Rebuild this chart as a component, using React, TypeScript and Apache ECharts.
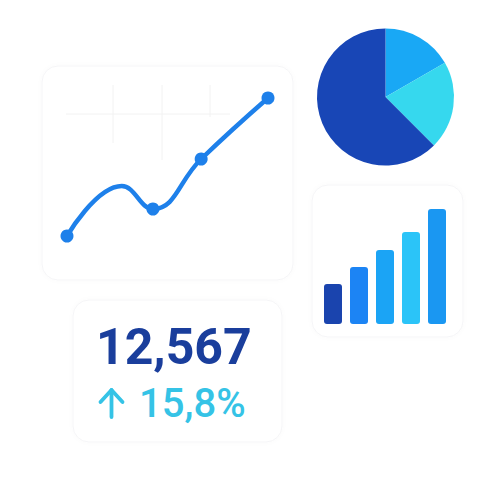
import React, { useEffect, useRef } from "react";
import * as echarts from "echarts";

// Line chart (x positions in units, y values)
const lineX = [0, 1.09, 1.71, 2.67, 4.0];
const lineY = [1.2, 3.7, 2.55, 5.05, 8.1];
const lineMarkers = [true, false, true, true, true];

// Pie shares (%)
const pieNames = ["A", "B", "C"];
const pieValues = [16.7, 20.8, 62.5];
const pieColors = ["#19A8F5", "#36D8EE", "#1846B6"];

// Bars
const barCats = ["1", "2", "3", "4", "5"];
const barValues = [40, 57, 74, 92, 115];
const barColors = ["#1A44AE", "#1C84F4", "#1BA4F5", "#2BC4F8", "#1A97F2"];

// KPI
const kpiValue = "12,567";
const kpiChange = "15,8%";

export default function App() {
  const ref = useRef<HTMLDivElement>(null);
  useEffect(() => {
    if (!ref.current) return;
    const chart = echarts.init(ref.current, null, { renderer: "svg" });
    const cardStyle = { fill: "#ffffff", stroke: "#f5f5f7", lineWidth: 1, shadowBlur: 5, shadowColor: "rgba(0,0,0,0.02)" };
    const gridLine = { stroke: "#f2f2f2", lineWidth: 1 };
    chart.setOption({
      animation: false,
      backgroundColor: "#ffffff",
      grid: [
        { left: 67, top: 60, width: 201, height: 200 },
        { left: 320, top: 204, width: 130, height: 120 },
      ],
      xAxis: [
        { type: "value", gridIndex: 0, min: 0, max: 4, show: false },
        { type: "category", gridIndex: 1, data: barCats, show: false },
      ],
      yAxis: [
        { type: "value", gridIndex: 0, min: 0, max: 10, show: false },
        { type: "value", gridIndex: 1, min: 0, max: 120, show: false },
      ],
      graphic: [
        { type: "rect", z: -10, shape: { x: 42, y: 66, width: 251, height: 214, r: 16 }, style: cardStyle },
        { type: "rect", z: -10, shape: { x: 312, y: 185, width: 151, height: 152, r: 16 }, style: cardStyle },
        { type: "rect", z: -10, shape: { x: 73, y: 300, width: 209, height: 142, r: 16 }, style: cardStyle },
        { type: "line", z: -5, shape: { x1: 66, y1: 114, x2: 230, y2: 114 }, style: gridLine },
        { type: "line", z: -5, shape: { x1: 113, y1: 85, x2: 113, y2: 143 }, style: gridLine },
        { type: "line", z: -5, shape: { x1: 162, y1: 85, x2: 162, y2: 160 }, style: gridLine },
        { type: "line", z: -5, shape: { x1: 210, y1: 85, x2: 210, y2: 117 }, style: gridLine },
        {
          type: "text",
          left: 96,
          top: 322,
          style: { text: kpiValue, font: "bold 50px Roboto", fill: "#1A3E9C" },
        },
        {
          type: "text",
          left: 139,
          top: 383,
          style: { text: kpiChange, font: "500 40px Roboto", fill: "#35C3E6" },
        },
        { type: "line", shape: { x1: 111.5, y1: 390, x2: 111.5, y2: 417 }, style: { stroke: "#35C3E6", lineWidth: 3.8, lineCap: "round" } },
        { type: "polyline", shape: { points: [[100.5, 402], [111.5, 390], [122.5, 402]] }, style: { stroke: "#35C3E6", lineWidth: 3.8, lineCap: "round", lineJoin: "round", fill: null } },
      ],
      series: [
        {
          type: "line",
          xAxisIndex: 0,
          yAxisIndex: 0,
          smooth: 0.45,
          data: lineX.map((x, i) => ({ value: [x, lineY[i]], symbolSize: lineMarkers[i] ? 13 : 0 })),
          symbol: "circle",
          showSymbol: true,
          lineStyle: { color: "#1E80EA", width: 4.5 },
          itemStyle: { color: "#1E80EA" },
        },
        {
          type: "pie",
          center: [385.5, 97],
          radius: 68.5,
          startAngle: 90,
          clockwise: true,
          label: { show: false },
          labelLine: { show: false },
          data: pieValues.map((v, i) => ({ name: pieNames[i], value: v, itemStyle: { color: pieColors[i] } })),
        },
        {
          type: "bar",
          xAxisIndex: 1,
          yAxisIndex: 1,
          barWidth: 18,
          data: barValues.map((v, i) => ({ value: v, itemStyle: { color: barColors[i], borderRadius: 3 } })),
        },
      ],
    });
    return () => chart.dispose();
  }, []);
  return <div ref={ref} style={{ position: "fixed", left: 0, top: 0, width: 500, height: 500 }} />;
}
